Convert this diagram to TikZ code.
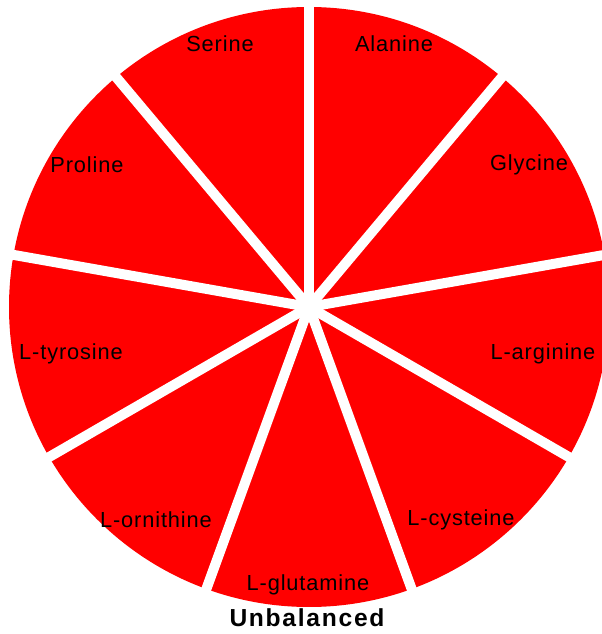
\documentclass[tikz,border=0pt]{standalone}
\usepackage{fontspec}
\setmainfont{Liberation Sans}
\definecolor{wedgered}{RGB}{255,0,0}

\tikzset{
  gapline/.style={white, line width=0.25cm, line cap=butt},
  slicelabel/.style={font=\fontsize{15.5}{18}\selectfont\addfontfeature{LetterSpace=4}, text=black, inner sep=0pt},
  charttitle/.style={font=\fontsize{17.5}{20}\selectfont\bfseries\addfontfeature{LetterSpace=7}, inner sep=0pt}
}

\begin{document}
\begin{tikzpicture}[x=0.025cm,y=0.025cm]
  \useasboundingbox (0,0) rectangle (602,634);
  \clip (0,0) rectangle (602,634);
  \coordinate (c) at (309,327);
  % the disc, then the white gaps between the nine slices
  \fill[wedgered] (c) circle (300);
  \foreach \a in {90,50,...,-230}
    \draw[gapline] (c) -- ++(\a:320);
  \fill[white] (c) circle (9);
  % slice labels
  \foreach \name/\pos in {
      Alanine/{(394,590)},
      Glycine/{(529,469)},
      L-arginine/{(543,280)},
      L-cysteine/{(461,114)},
      L-glutamine/{(308,49)},
      L-ornithine/{(156,114)},
      L-tyrosine/{(71,280)},
      Proline/{(87,469)},
      Serine/{(220,590)}}
  {
    \node[slicelabel] (\name) at \pos {\name};
  }
  \node[charttitle] (title) at (307,16) {Unbalanced};
\end{tikzpicture}
\end{document}
